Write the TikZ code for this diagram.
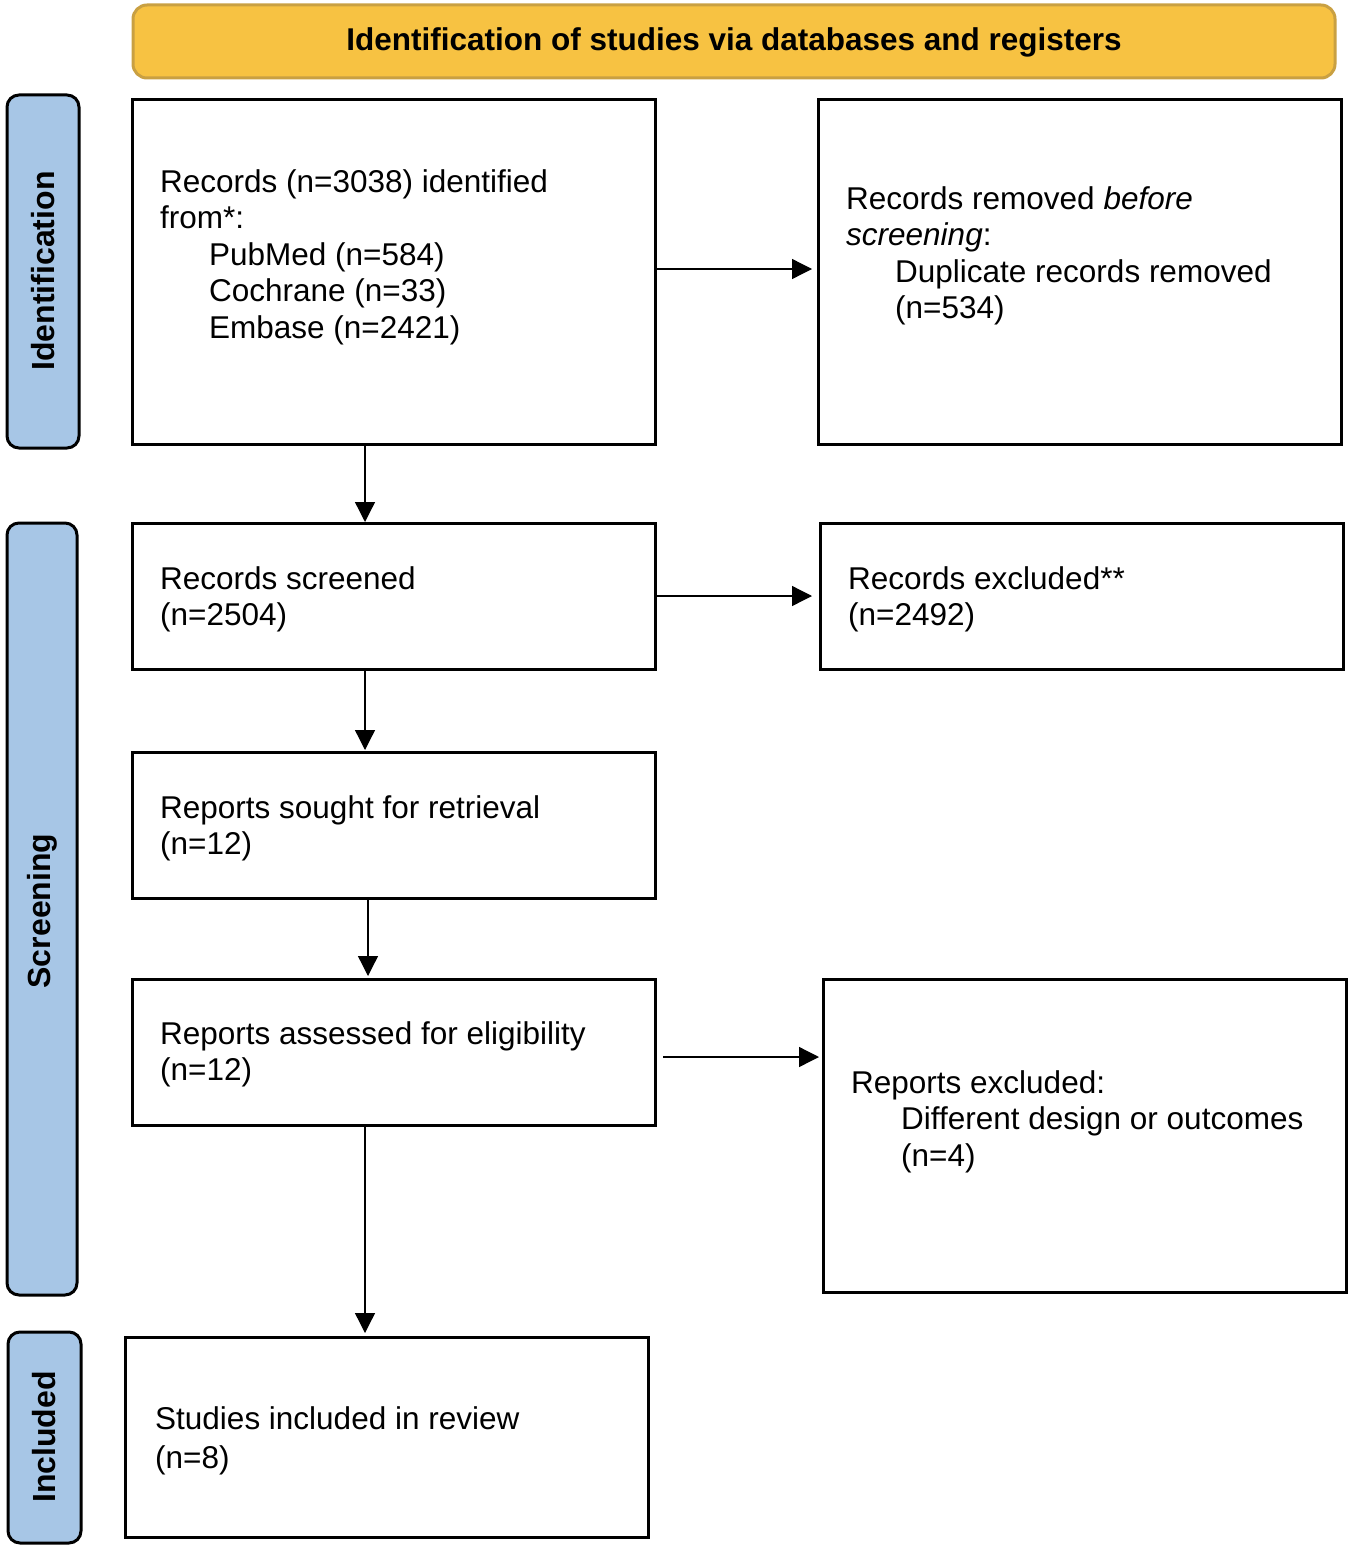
\documentclass[tikz,border=0pt]{standalone}
\usepackage{fontspec}
\setmainfont{Liberation Sans}
\usetikzlibrary{arrows.meta}
\definecolor{bannerfill}{HTML}{F7C242}
\definecolor{bannerdraw}{HTML}{C9A042}
\definecolor{sidefill}{HTML}{A7C6E6}
\begin{document}
\begin{tikzpicture}[x=1pt,y=-1pt,
  box/.style={draw=black,line width=3pt,fill=white,inner sep=0pt,outer sep=0pt},
  txt/.style={anchor=base west,inner sep=0pt,align=left,font=\fontsize{31.5}{36.5}\selectfont},
  side/.style={draw=black,line width=3pt,fill=sidefill,rounded corners=12pt},
  sidetxt/.style={rotate=90,font=\fontsize{32}{36}\selectfont\bfseries,inner sep=0pt},
  arr/.style={line width=1.3pt,-{Triangle[length=20pt,width=20pt]}}]
\useasboundingbox (0,0) rectangle (1351,1549);
% banner
\draw[draw=bannerdraw,fill=bannerfill,line width=3pt,rounded corners=14pt] (133,5) rectangle (1335,78);
\node[font=\fontsize{31.5}{36}\selectfont\bfseries,inner sep=0pt,anchor=base] (banner) at (734,51) {Identification of studies via databases and registers};
% side bars
\draw[side] (7,95) rectangle (79,448);
\node[sidetxt] (sidei) at (43,271) {Identification};
\draw[side] (7,523) rectangle (77,1295);
\node[sidetxt] (sides) at (42,911) {Screening};
\draw[side] (8,1332) rectangle (81,1543);
\node[sidetxt] (sidec) at (44,1437) {Included};
% boxes (text nodes anchored at baseline of their last line)
\path[box] (132,100) rectangle (655,444);
\coordinate (b1n) at (365,444); \coordinate (b1e) at (655,269);
\node[txt] (t1) at (160,338) {Records (n=3038) identified\\from*:\\\hspace*{49pt}PubMed (n=584)\\\hspace*{49pt}Cochrane (n=33)\\\hspace*{49pt}Embase (n=2421)};
\path[box] (818,100) rectangle (1341,444);
\coordinate (b2w) at (812,269);
\node[txt] (t2) at (846,318.5) {Records removed \textit{before}\\\textit{screening}:\\\hspace*{49pt}Duplicate records removed\\\hspace*{49pt}(n=534)};
\path[box] (132,523) rectangle (655,669);
\coordinate (b3n) at (365,522); \coordinate (b3s) at (365,669); \coordinate (b3e) at (655,596);
\node[txt] (t3) at (160,625.5) {Records screened\\(n=2504)};
\path[box] (820,523) rectangle (1343,669);
\coordinate (b4w) at (812,596);
\node[txt] (t4) at (848,625.5) {Records excluded**\\(n=2492)};
\path[box] (132,752) rectangle (655,898);
\coordinate (b5n) at (365,750); \coordinate (b5s) at (368,898);
\node[txt] (t5) at (160,854.5) {Reports sought for retrieval\\(n=12)};
\path[box] (132,979) rectangle (655,1125);
\coordinate (b6n) at (368,976); \coordinate (b6s) at (365,1125); \coordinate (b6e) at (663,1057);
\node[txt] (t6) at (160,1080.5) {Reports assessed for eligibility\\(n=12)};
\path[box] (823,979) rectangle (1346,1292);
\coordinate (b7w) at (819,1057);
\node[txt] (t7) at (851,1166) {Reports excluded:\\\hspace*{50pt}Different design or outcomes\\\hspace*{50pt}(n=4)};
\path[box] (125,1337) rectangle (648,1537);
\coordinate (b8n) at (365,1333);
\node[txt,font=\fontsize{31.5}{39}\selectfont] (t8) at (155,1468) {Studies included in review\\(n=8)};
% arrows
\draw[arr] (b1e) -- (b2w);
\draw[arr] (b1n) -- (b3n);
\draw[arr] (b3e) -- (b4w);
\draw[arr] (b3s) -- (b5n);
\draw[arr] (b5s) -- (b6n);
\draw[arr] (b6e) -- (b7w);
\draw[arr] (b6s) -- (b8n);
\end{tikzpicture}
\end{document}
